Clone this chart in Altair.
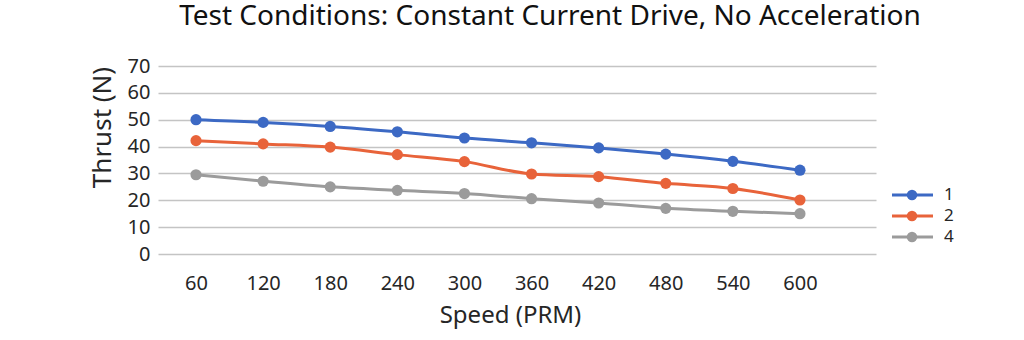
import altair as alt
import pandas as pd

# Speed steps (rpm) and measured thrust for each test configuration
speeds = [60, 120, 180, 240, 300, 360, 420, 480, 540, 600]
thrust_1 = [50.0, 49.0, 47.5, 45.5, 43.2, 41.4, 39.5, 37.2, 34.5, 31.2]
thrust_2 = [42.2, 41.0, 39.8, 37.0, 34.4, 29.8, 28.8, 26.3, 24.4, 20.1]
thrust_4 = [29.5, 27.1, 25.0, 23.7, 22.5, 20.6, 19.0, 17.0, 15.9, 15.0]
series_names = ["1", "2", "4"]
series_colors = ["#3c69c4", "#e8633a", "#9b9b9b"]
y_ticks = [0, 10, 20, 30, 40, 50, 60, 70]

rows = []
for name, values in zip(series_names, [thrust_1, thrust_2, thrust_4]):
    for s, v in zip(speeds, values):
        rows.append({"speed": s, "thrust": v, "series": name})
df = pd.DataFrame(rows)
legend_df = pd.DataFrame({"series": series_names})

FONT = "Noto Sans"
TEXT = "#262626"

color_scale = alt.Scale(domain=series_names, range=series_colors)
color_enc = alt.Color("series:N", scale=color_scale, legend=None)

x_enc = alt.X(
    "speed:Q",
    scale=alt.Scale(domain=[26, 668], nice=False, zero=False),
    axis=alt.Axis(
        values=speeds, format="d", grid=False, domain=False, ticks=False,
        labelPadding=19, labelFontSize=20, labelColor=TEXT, labelFont=FONT,
        title="Speed (PRM)", titleFontSize=24, titleFont=FONT,
        titleFontWeight="normal", titleColor=TEXT, titlePadding=10,
        titleX=352, titleAlign="center",
    ),
)
y_scale = alt.Scale(domain=[0, 70], nice=False)
y_enc = alt.Y(
    "thrust:Q",
    scale=y_scale,
    axis=alt.Axis(
        values=y_ticks, grid=True, gridColor="#c4c4c4", gridWidth=1.5,
        domain=False, ticks=False, labelPadding=8, labelFontSize=20,
        labelColor=TEXT, labelFont=FONT,
        title="Thrust (N)", titleFontSize=26, titleFont=FONT,
        titleFontWeight="normal", titleColor=TEXT,
        titleAngle=-90, titleAlign="center", titleBaseline="middle",
        titleX=-56, titleY=61,
    ),
)

lines = alt.Chart(df).mark_line(strokeWidth=3, interpolate="monotone").encode(
    x=x_enc, y=y_enc, color=color_enc,
)

points = alt.Chart(df).mark_point(filled=True, size=125, opacity=1).encode(
    x=x_enc,
    y=alt.Y("thrust:Q", scale=y_scale, axis=None),
    color=color_enc,
)

# legend at the right: one row per series (line sample, dot, label)
legend_y = alt.Y(
    "series:N",
    scale=alt.Scale(type="point", domain=series_names, range=[129, 171], padding=0),
    axis=None,
)
legend_line = alt.Chart(legend_df).mark_rule(strokeWidth=3).encode(
    x=alt.value(734), x2=alt.value(775), y=legend_y, color=color_enc,
)
legend_dot = alt.Chart(legend_df).mark_point(filled=True, size=110, opacity=1).encode(
    x=alt.value(754), y=legend_y, color=color_enc,
)
legend_text = alt.Chart(legend_df).mark_text(
    align="left", baseline="middle", fontSize=17, font=FONT, color=TEXT,
).encode(x=alt.value(786), y=legend_y, text="series:N")

chart = (
    alt.layer(lines, points, legend_line, legend_dot, legend_text)
    .resolve_scale(y="independent")
    .properties(
        width=718, height=188,
        background="white",
        autosize=alt.AutoSizeParams(type="none"),
        padding={"left": 158, "top": 66, "right": 148, "bottom": 86},
        title=alt.TitleParams(
            "Test Conditions: Constant Current Drive, No Acceleration",
            font=FONT, fontSize=28, fontWeight="normal", color="#111111",
            anchor="middle", dx=33, offset=25,
        ),
    )
    .configure_view(strokeWidth=0)
)

chart.save("out.html", embed_options={"renderer": "svg", "actions": False})
